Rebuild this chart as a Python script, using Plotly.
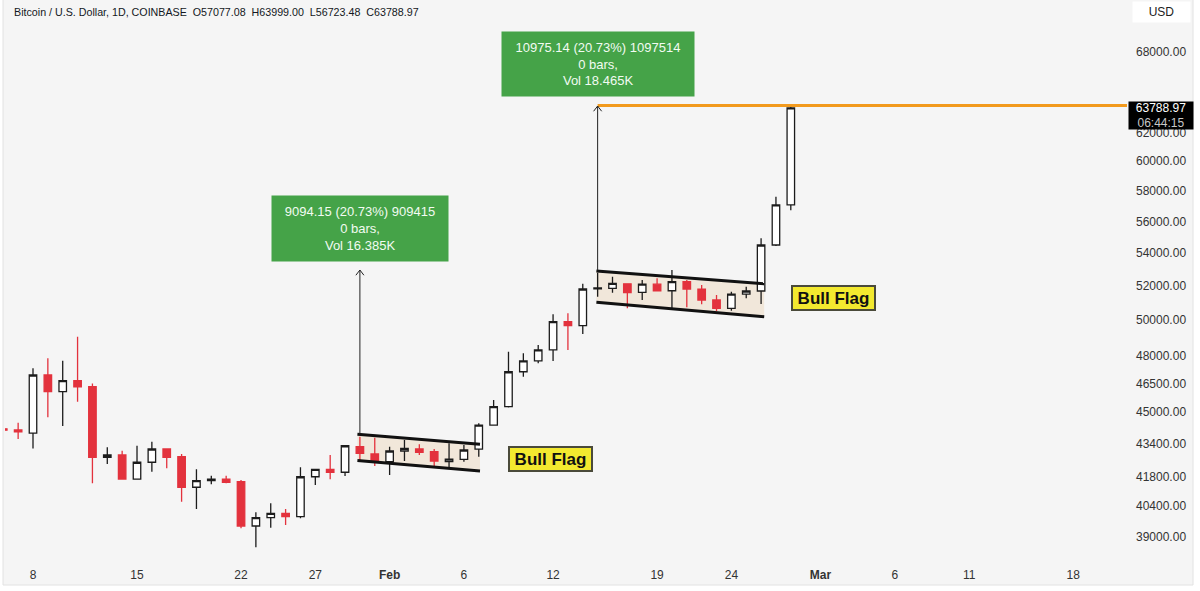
import numpy as np
import pandas as pd
import plotly.graph_objects as go

# ---------------- data ----------------
dates = pd.date_range("2024-01-06", "2024-02-28", freq="D")
opens = [44150, 44090, 43930, 46960, 46070, 46660, 46330, 42730, 42845, 41680,
         42490, 43140, 42760, 41290, 41600, 41670, 41555, 39495, 39875, 40075,
         39920, 41790, 42145, 42005, 43255, 42895,
         42515, 43040, 43140, 43005, 42515, 42630, 43130, 44340, 45285, 47135,
         47720, 48330, 49920, 49690, 51830, 51865, 52130, 51630, 52110, 51720,
         52260, 51810, 51175, 50690, 51515, 51705, 54505, 57077.08]
highs = [44200, 44460, 47320, 47870, 47735, 49070, 46510, 43225, 43056, 43300,
         43500, 43180, 42890, 42150, 41840, 41840, 41635, 40120, 40535, 40270,
         42245, 42170, 42845, 43330, 43755, 43705,
         43255, 43585, 43370, 43140, 43425, 43335, 44430, 45635, 48230, 48140,
         48600, 50345, 50400, 52130, 52800, 52555, 52160, 52365, 52465, 52965,
         52365, 52065, 51475, 51665, 51965, 54925, 57610, 63999.00]
lows = [44000, 43640, 43170, 44740, 44290, 45545, 41480, 42405, 41650, 41660,
        42030, 42195, 40610, 40270, 41430, 41475, 39390, 38540, 39415, 39540,
        39845, 41395, 41670, 41825, 42600, 42310,
        41875, 42545, 42845, 42310, 42195, 42515, 42760, 44330, 45240, 46865,
        47595, 47720, 48330, 49220, 51370, 51605, 50690, 51175, 51700, 50690,
        50750, 50925, 50535, 50555, 51275, 50940, 54450, 56723.48]
closes = [44080, 43990, 46960, 46070, 46660, 46330, 42730, 42845, 41680, 42490,
          43140, 42730, 41290, 41600, 41670, 41525, 39495, 39875, 40075, 39920,
          41790, 42145, 42005, 43300, 42930, 42490,
          43040, 43175, 42975, 42545, 42645, 43090, 44340, 45285, 47135, 47720,
          48330, 49920, 49690, 51825, 51890, 52165, 51605, 52110, 51720, 52260,
          51825, 51175, 50690, 51515, 51705, 54505, 57065, 63788.97]

x_tick_dates = ["2024-01-08", "2024-01-15", "2024-01-22", "2024-01-27", "2024-02-01",
                "2024-02-06", "2024-02-12", "2024-02-19", "2024-02-24", "2024-03-01",
                "2024-03-06", "2024-03-11", "2024-03-18"]
x_tick_text = ["8", "15", "22", "27", "<b>Feb</b>", "6", "12", "19", "24",
               "<b>Mar</b>", "6", "11", "18"]
y_tick_vals = [39000, 40400, 41800, 43400, 45000, 46500, 48000, 50000, 52000,
               54000, 56000, 58000, 60000, 62000, 68000]
y_tick_text = [f"{v:.2f}" for v in y_tick_vals]

# flag channels (drawings)
flag1_x = ["2024-01-29 20:00", "2024-02-07 02:00"]
flag1_top = [43880, 43370]
flag1_bot = [42570, 42065]
flag2_x = ["2024-02-14 22:00", "2024-02-26 05:00"]
flag2_top = [52900, 52130]
flag2_bot = [51040, 50205]

# measure arrows
arrow1_x = "2024-01-30"
arrow1_from, arrow1_to = 43870, 52964
arrow2_x = "2024-02-15"
arrow2_from, arrow2_to = 52943, 63918
ray_price = 63950
ray_x = ["2024-02-15", "2024-03-25"]

measure1_text = "9094.15 (20.73%) 909415<br>0 bars,<br>Vol 16.385K"
measure2_text = "10975.14 (20.73%) 1097514<br>0 bars,<br>Vol 18.465K"
last_price = 63788.97
countdown = "06:44:15"
title_text = ("Bitcoin / U.S. Dollar, 1D, COINBASE&nbsp;&nbsp;O57077.08&nbsp;&nbsp;"
              "H63999.00&nbsp;&nbsp;L56723.48&nbsp;&nbsp;C63788.97")

# ---------------- figure ----------------
FONT = "Liberation Sans, Arial, sans-serif"
RED = "#e3323d"
X_RANGE = ["2024-01-06 02:47", "2024-03-21 15:00"]
LOG_TOP = np.log10(39000) + 537 / 2008.6
LOG_BOT = np.log10(39000) - 23 / 2008.6

fig = go.Figure()

# flag fills on base axes (drawn beneath the overlay with candles)
for fx, ft, fb in [(flag1_x, flag1_top, flag1_bot), (flag2_x, flag2_top, flag2_bot)]:
    fig.add_trace(go.Scatter(
        x=[fx[0], fx[1], fx[1], fx[0], fx[0]],
        y=[ft[0], ft[1], fb[1], fb[0], ft[0]],
        fill="toself", fillcolor="#f1e7da",
        line=dict(width=0), mode="lines", hoverinfo="skip", showlegend=False,
        xaxis="x", yaxis="y"))

fig.add_trace(go.Candlestick(
    x=dates, open=opens, high=highs, low=lows, close=closes,
    increasing=dict(line=dict(color="#1c1c1c", width=1.3), fillcolor="#ffffff"),
    decreasing=dict(line=dict(color=RED, width=1.3), fillcolor=RED),
    whiskerwidth=0, showlegend=False, xaxis="x2", yaxis="y2"))

# flag boundary lines
for fx, ft, fb in [(flag1_x, flag1_top, flag1_bot), (flag2_x, flag2_top, flag2_bot)]:
    for yy in (ft, fb):
        fig.add_trace(go.Scatter(x=fx, y=yy, mode="lines",
                                 line=dict(color="#111111", width=3),
                                 hoverinfo="skip", showlegend=False,
                                 xaxis="x2", yaxis="y2"))

# orange horizontal ray
fig.add_trace(go.Scatter(x=ray_x, y=[ray_price, ray_price], mode="lines",
                         line=dict(color="#f29a1d", width=3),
                         hoverinfo="skip", showlegend=False, xaxis="x2", yaxis="y2"))

# arrows
for ax_, p0, p1 in [(arrow1_x, arrow1_from, arrow1_to), (arrow2_x, arrow2_from, arrow2_to)]:
    fig.add_trace(go.Scatter(x=[ax_, ax_], y=[p0, p1], mode="lines",
                             line=dict(color="#222222", width=1),
                             hoverinfo="skip", showlegend=False, xaxis="x2", yaxis="y2"))
    t = pd.Timestamp(ax_)
    d = pd.Timedelta(hours=6.5)
    fig.add_trace(go.Scatter(x=[t - d, t, t + d], y=[p1 / 1.006, p1, p1 / 1.006],
                             mode="lines", line=dict(color="#222222", width=1),
                             hoverinfo="skip", showlegend=False, xaxis="x2", yaxis="y2"))

annotations = []
annotations.append(dict(x=arrow1_x, y=np.log10(53454), xref="x", yref="y",
                        text=measure1_text, showarrow=False, xanchor="center",
                        yanchor="bottom", bgcolor="#45a348", borderpad=3,
                        width=170, height=59,
                        font=dict(family=FONT, size=13, color="#f2fbf2")))
annotations.append(dict(x=arrow2_x, y=np.log10(64588), xref="x", yref="y",
                        text=measure2_text, showarrow=False, xanchor="center",
                        yanchor="bottom", bgcolor="#45a348", borderpad=3,
                        width=186, height=58,
                        font=dict(family=FONT, size=13, color="#f2fbf2")))
for bx, by in [("2024-02-11 20:00", 42647), ("2024-03-01 21:00", 51294)]:
    annotations.append(dict(x=bx, y=np.log10(by), xref="x", yref="y",
                            text="<b>Bull Flag</b>", showarrow=False,
                            xanchor="center", yanchor="middle",
                            bgcolor="#f3e92f", bordercolor="#4a4a3a",
                            borderwidth=2, borderpad=0, width=81, height=22,
                            font=dict(family=FONT, size=17, color="#111111")))
annotations.append(dict(x=1, y=np.log10(ray_price), xref="paper", yref="y",
                        xanchor="left", yanchor="top", xshift=1, yshift=5,
                        text=f"{last_price:.2f}<br><span style='color:#c8c8c8'>{countdown}</span>",
                        showarrow=False, bgcolor="#000000", borderpad=1,
                        width=62, height=25, align="center",
                        font=dict(family=FONT, size=12, color="#ffffff")))
annotations.append(dict(x=(1161.5 - 5) / 1122, y=1 - 12 / 560, xref="paper",
                        yref="paper", xanchor="center", yanchor="middle",
                        text="USD", showarrow=False, bgcolor="#ffffff",
                        width=55, height=18, borderpad=1,
                        font=dict(family=FONT, size=12, color="#222222")))
annotations.append(dict(x=(12 - 5) / 1122, y=1 - 12 / 560, xref="paper",
                        yref="paper", xanchor="left", yanchor="middle",
                        text=title_text, showarrow=False,
                        font=dict(family=FONT, size=10.7, color="#131722")))

shapes = [dict(type="rect", xref="paper", yref="paper", layer="below",
               x0=(3 - 5) / 1122, x1=(1193 - 5) / 1122,
               y0=-(585 - 560) / 560, y1=1.05,
               fillcolor="#f5f5f5", line=dict(color="#e2e2e2", width=1))]

fig.update_layout(
    width=1200, height=591,
    margin=dict(l=5, r=73, t=0, b=31),
    paper_bgcolor="#ffffff", plot_bgcolor="rgba(0,0,0,0)",
    showlegend=False, boxgap=0.28,
    annotations=annotations, shapes=shapes,
    font=dict(family=FONT, size=12, color="#333333"),
    xaxis=dict(type="date", range=X_RANGE,
               tickvals=x_tick_dates, ticktext=x_tick_text,
               showgrid=False, zeroline=False, showline=False, ticks="",
               ticklabelstandoff=6,
               tickfont=dict(family=FONT, size=12, color="#333333")),
    yaxis=dict(type="log", range=[LOG_BOT, LOG_TOP], side="right",
               tickvals=y_tick_vals, ticktext=y_tick_text,
               showgrid=False, zeroline=False, showline=False, ticks="",
               ticklabelstandoff=8,
               tickfont=dict(family=FONT, size=12, color="#333333")),
    xaxis2=dict(type="date", range=X_RANGE, overlaying="x", visible=False,
                rangeslider=dict(visible=False)),
    yaxis2=dict(type="log", range=[LOG_BOT, LOG_TOP], overlaying="y",
                side="right", visible=False),
)

fig.write_html("out.html", config={"displayModeBar": False},
               post_script="document.body.style.margin='0px';document.body.style.padding='0px';")
